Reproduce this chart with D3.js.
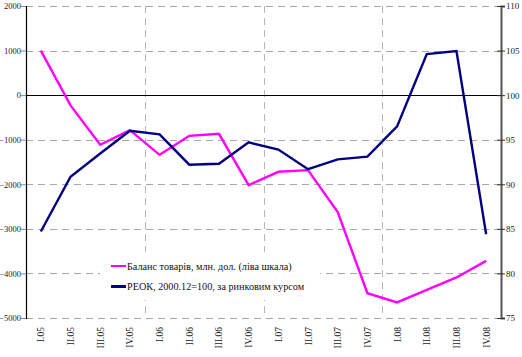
<!DOCTYPE html>
<html><head><meta charset="utf-8">
<script src="https://cdn.jsdelivr.net/npm/d3@7"></script>
<style>
body{margin:0;background:#fff;}
svg{display:block;}
svg text{font-family:"Liberation Serif","DejaVu Serif",serif;}
</style></head>
<body><svg id="c" width="522" height="357"></svg>
<script>
const categories = ["I.05","II.05","III.05","IV.05","I.06","II.06","III.06","IV.06","I.07","II.07","III.07","IV.07","I.08","II.08","III.08","IV.08"];
const balance = [1000,-230,-1115,-785,-1340,-913,-868,-2020,-1720,-1683,-2625,-4443,-4650,-4370,-4090,-3718];
const reer = [84.7,90.85,93.45,96.0,95.6,92.2,92.3,94.7,93.9,91.7,92.8,93.1,96.5,104.6,104.95,84.4];
const leftTicks = [2000,1000,0,-1000,-2000,-3000,-4000,-5000];
const rightTicks = [110,105,100,95,90,85,80,75];
const seriesNames = ["Баланс товарів, млн. дол. (ліва шкала)","РЕОК, 2000.12=100, за ринковим курсом"];
const seriesColors = ["#ff00ff","#000080"];

const svg = d3.select("#c");
const L = 26, R = 501, T = 6, B = 318;
const x = d3.scaleBand().domain(categories).range([L, R]);
const yL = d3.scaleLinear().domain([-5000, 2000]).range([B, T]);
const yR = d3.scaleLinear().domain([75, 110]).range([B, T]);
const cx = d => x(d) + x.bandwidth() / 2;

// horizontal gridlines
svg.append("g").selectAll("line").data(leftTicks.filter(v => v !== 0)).join("line")
  .attr("x1", L).attr("x2", R).attr("y1", d => Math.round(yL(d)) + 0.5).attr("y2", d => Math.round(yL(d)) + 0.5)
  .attr("stroke", "#a8a8a8").attr("stroke-width", 1).attr("stroke-dasharray", "7,5");
// vertical year gridlines
const yearBounds = [4, 8, 12].map(i => x(categories[i]));
svg.append("g").selectAll("line").data(yearBounds).join("line")
  .attr("x1", d => Math.round(d) + 0.5).attr("x2", d => Math.round(d) + 0.5).attr("y1", T).attr("y2", B)
  .attr("stroke", "#b8b8b8").attr("stroke-width", 1).attr("stroke-dasharray", "7,5");
// zero line
svg.append("line").attr("x1", L).attr("x2", R).attr("y1", Math.round(yL(0)) + 0.5).attr("y2", Math.round(yL(0)) + 0.5)
  .attr("stroke", "#000").attr("stroke-width", 1.2);

// left axis
const gl = svg.append("g").attr("transform", `translate(${L},0)`)
  .call(d3.axisLeft(yL).tickValues(leftTicks).tickSize(5).tickPadding(0).tickFormat(d3.format("d")));
gl.attr("font-family", null);
gl.select(".domain").attr("stroke", "#000").attr("stroke-width", 1.2);
gl.selectAll(".tick line").attr("stroke", "#888");
gl.selectAll("text").attr("font-size", 8.5).attr("fill", "#222");

// right axis
const gr = svg.append("g").attr("transform", `translate(${R},0)`)
  .call(d3.axisRight(yR).tickValues(rightTicks).tickSize(4).tickPadding(1));
gr.attr("font-family", null);
gr.select(".domain").attr("stroke", "#555").attr("stroke-width", 2);
gr.selectAll(".tick line").attr("x1", -4).attr("stroke", "#333");
gr.selectAll("text").attr("font-size", 9).attr("fill", "#222");

// x labels
svg.append("g").selectAll("text").data(categories).join("text")
  .attr("transform", d => `translate(${cx(d) + 3.5},327) rotate(-90)`)
  .attr("text-anchor", "end").attr("font-size", 9.5).attr("fill", "#222").text(d => d);

// lines
const lineL = d3.line().x((d, i) => cx(categories[i])).y(d => yL(d));
const lineR = d3.line().x((d, i) => cx(categories[i])).y(d => yR(d));
svg.append("path").datum(balance).attr("d", lineL).attr("fill", "none")
  .attr("stroke", seriesColors[0]).attr("stroke-width", 2.4).attr("stroke-linejoin", "miter");
svg.append("path").datum(reer).attr("d", lineR).attr("fill", "none")
  .attr("stroke", seriesColors[1]).attr("stroke-width", 2.4).attr("stroke-linejoin", "miter");

// legend
const lg = svg.append("g");
lg.append("rect").attr("x", 100).attr("y", 252).attr("width", 220).attr("height", 48).attr("fill", "#fff");
seriesNames.forEach((n, i) => {
  const yy = 266 + i * 20.5;
  lg.append("line").attr("x1", 111).attr("x2", 126).attr("y1", yy).attr("y2", yy)
    .attr("stroke", seriesColors[i]).attr("stroke-width", i ? 3 : 2);
  lg.append("text").attr("x", 127).attr("y", yy + 3.5).attr("font-size", 10.2).attr("fill", "#111").text(n);
});
</script></body></html>
